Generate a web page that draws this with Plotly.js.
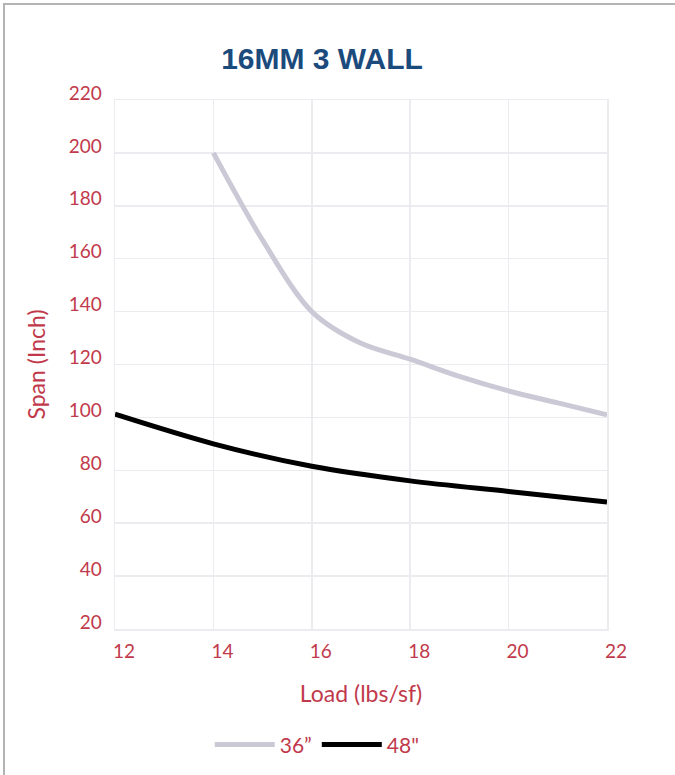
<!DOCTYPE html>
<html>
<head>
<meta charset="utf-8">
<script src="https://cdn.plot.ly/plotly-3.0.1.min.js"></script>
<style>
  html, body { margin: 0; padding: 0; background: #ffffff; }
  #wrap { position: relative; width: 675px; height: 775px; overflow: hidden; }
  #chart { width: 675px; height: 775px; }
  #frame { position: absolute; left: 3px; top: 3px; width: 700px; height: 800px;
           border-left: 2px solid #b4b4b4; border-top: 2px solid #b4b4b4; pointer-events: none; }
</style>
</head>
<body>
<div id="wrap">
  <div id="chart"></div>
  <div id="frame"></div>
</div>
<script>
// Data
const load36 = [14, 15, 16, 17, 18, 19, 20, 21, 22];
const span36 = [200, 167, 140, 128, 122, 115.5, 110, 105.5, 101];
const load48 = [12, 14, 16, 18, 20, 22];
const span48 = [101.2, 90, 81.5, 76, 72, 68];
const seriesNames = ['36”', '48"'];
const xTicks = [12, 14, 16, 18, 20, 22];
const yTicks = [20, 40, 60, 80, 100, 120, 140, 160, 180, 200, 220];

const red = '#c13a4c';
const tickFont = { family: 'Lato, "Open Sans", sans-serif', size: 19, color: red };
const titleFont = { family: 'Lato, "Open Sans", sans-serif', size: 23, color: red };

const traces = [
  { x: load36, y: span36, name: seriesNames[0], mode: 'lines',
    line: { color: '#cbc9d6', width: 5, shape: 'spline', smoothing: 0.9 } },
  { x: load48, y: span48, name: seriesNames[1], mode: 'lines',
    line: { color: '#000000', width: 5, shape: 'spline', smoothing: 0.9 } }
];

const layout = {
  width: 675, height: 775,
  margin: { l: 115, r: 68, t: 100, b: 146 },
  paper_bgcolor: '#ffffff', plot_bgcolor: '#ffffff',
  title: { text: '<b>16MM 3 WALL</b>', x: 0.477, xref: 'container', xanchor: 'center',
           y: 0.925, yref: 'container', yanchor: 'middle',
           font: { family: '"Liberation Sans", Arial, sans-serif', size: 30, color: '#1b4a7c' } },
  xaxis: {
    range: [12, 22], tickvals: xTicks, ticktext: xTicks.map(String),
    showgrid: true, gridcolor: '#ececf0', gridwidth: 1.5, zeroline: false,
    showline: true, mirror: true, linecolor: '#ececf0', linewidth: 1.5,
    ticks: '', tickfont: tickFont, ticklabelshift: 9, ticklabelstandoff: 5,
    title: { text: 'Load (lbs/sf)', standoff: 24, font: titleFont },
    fixedrange: true
  },
  yaxis: {
    range: [20, 220], tickvals: yTicks, ticktext: yTicks.map(String),
    showgrid: true, gridcolor: '#ececf0', gridwidth: 1.5, zeroline: false,
    showline: true, mirror: true, linecolor: '#ececf0', linewidth: 1.5,
    ticks: '', tickfont: tickFont, ticklabelshift: -7, ticklabelstandoff: 8,
    title: { text: 'Span (Inch)', standoff: 16, font: titleFont },
    fixedrange: true
  },
  showlegend: true,
  legend: { orientation: 'h', x: 0.47, xref: 'container', xanchor: 'center',
            y: 0.039, yref: 'container', yanchor: 'middle',
            font: { family: 'Lato, "Open Sans", sans-serif', size: 21, color: red },
            itemwidth: 60, traceorder: 'normal' }
};

Plotly.newPlot('chart', traces, layout, { displayModeBar: false, staticPlot: true });
</script>
</body>
</html>
